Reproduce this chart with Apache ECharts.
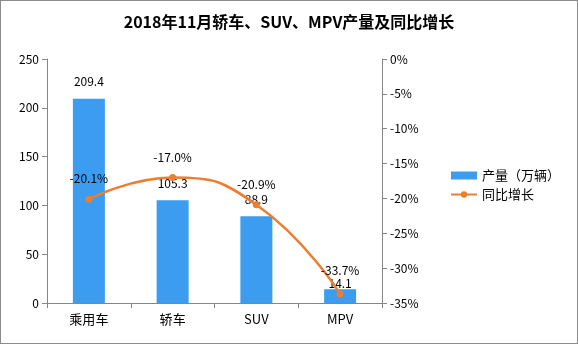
<!DOCTYPE html>
<html><head><meta charset="utf-8">
<script src="https://cdn.jsdelivr.net/npm/echarts@6/dist/echarts.min.js"></script>
<style>html,body{margin:0;padding:0;background:#fff}#c{width:578px;height:344px;box-sizing:border-box;border:1px solid #8c8c8c}</style>
</head><body><div id="c"></div>
<script>
const categories = ['乘用车', '轿车', 'SUV', 'MPV'];
const production = [209.4, 105.3, 88.9, 14.1];
const growth = [-20.1, -17.0, -20.9, -33.7];
const leftTicks = [0, 50, 100, 150, 200, 250];
const rightTicks = [-35, -30, -25, -20, -15, -10, -5, 0];

const chart = echarts.init(document.getElementById('c'));
const axisColor = '#868686';
const font = '"Noto Sans CJK SC", "DejaVu Sans", sans-serif';
const barData = production.map((v, i) => i === 3 ? { value: v, label: { distance: 0 } } : v);
const lineData = growth.map((v, i) => i === 3 ? { value: v, label: { distance: 14 } } : v);
chart.setOption({
  animation: false,
  textStyle: { fontFamily: font },
  title: {
    text: '2018年11月轿车、SUV、MPV产量及同比增长',
    left: 'center', top: 8,
    textStyle: { fontSize: 16, fontWeight: 'bold', color: '#000', fontFamily: font }
  },
  legend: {
    orient: 'vertical', left: 444, top: 163, itemGap: 6,
    itemWidth: 26, itemHeight: 8,
    textStyle: { fontSize: 13, color: '#000' },
    data: [{ name: '产量（万辆）', icon: 'rect' }, { name: '同比增长' }]
  },
  grid: { left: 46, right: 195, top: 58, bottom: 40 },
  xAxis: {
    type: 'category', data: categories,
    axisLine: { lineStyle: { color: axisColor } },
    axisTick: { show: true, alignWithLabel: false, lineStyle: { color: axisColor } },
    axisLabel: { color: '#000', fontSize: 13, margin: 10 }
  },
  yAxis: [{
    type: 'value', min: leftTicks[0], max: leftTicks[leftTicks.length - 1], interval: 50,
    axisLine: { show: true, lineStyle: { color: axisColor } },
    axisTick: { show: true, lineStyle: { color: axisColor } },
    splitLine: { show: false },
    axisLabel: { color: '#000', fontSize: 12 }
  }, {
    type: 'value', min: rightTicks[0], max: rightTicks[rightTicks.length - 1], interval: 5,
    position: 'right',
    axisLine: { show: true, lineStyle: { color: axisColor } },
    axisTick: { show: true, lineStyle: { color: axisColor } },
    splitLine: { show: false },
    axisLabel: { color: '#000', fontSize: 12, formatter: '{value}%' }
  }],
  series: [{
    name: '产量（万辆）', type: 'bar', data: barData, barWidth: 32,
    itemStyle: { color: '#3b9cf0' },
    label: { show: true, position: 'top', color: '#000', fontSize: 12, distance: 11, formatter: p => p.value.toFixed(1) }
  }, {
    name: '同比增长', type: 'line', yAxisIndex: 1, data: lineData, smooth: true,
    symbol: 'circle', symbolSize: 7,
    lineStyle: { color: '#ed7d31', width: 2.5 },
    itemStyle: { color: '#ed7d31' },
    label: { show: true, position: 'top', color: '#000', fontSize: 12, distance: 11, formatter: p => p.value.toFixed(1) + '%' }
  }],
  labelLayout: { hideOverlap: false }
});
</script></body></html>
